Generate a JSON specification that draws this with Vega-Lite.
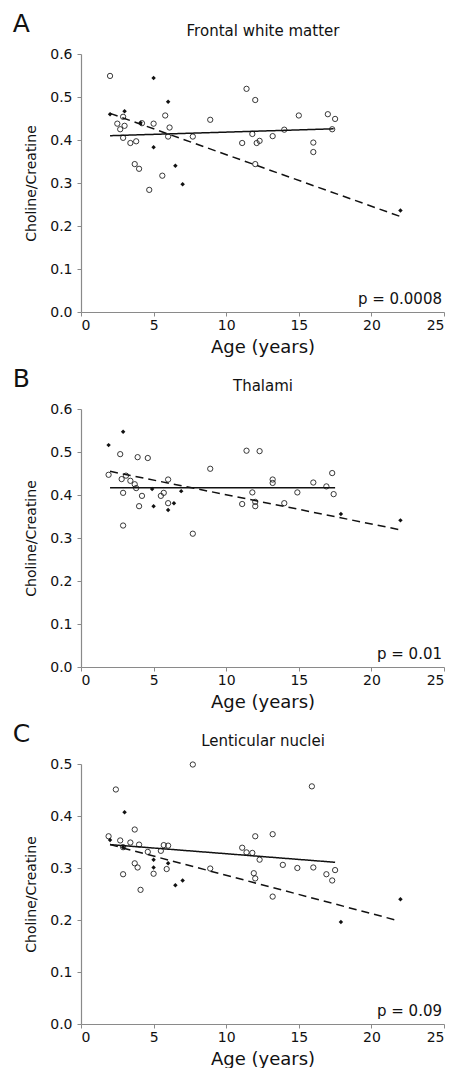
{
  "$schema": "https://vega.github.io/schema/vega-lite/v6.json",
  "padding": {"left": 12, "top": 12, "right": 4, "bottom": 0},
  "spacing": 11,
  "config": {
    "view": {"stroke": null},
    "font": "DejaVu Sans",
    "axis": {"domainColor": "#8a8a8a", "tickColor": "#8a8a8a", "labelColor": "#111", "titleColor": "#111", "labelFont": "DejaVu Sans", "titleFont": "DejaVu Sans", "labelFontSize": 14, "grid": false, "tickSize": 4, "titleFontWeight": "normal", "domainWidth": 1.2},
    "title": {"font": "DejaVu Sans", "fontWeight": "normal", "fontSize": 25, "anchor": "start", "frame": "bounds", "color": "#111", "offset": -14, "dx": -12}
  },
  "datasets": {
    "points": [
      {"panel": "A", "group": "Group 1", "age": 2.0, "ratio": 0.549},
      {"panel": "A", "group": "Group 1", "age": 11.4, "ratio": 0.519},
      {"panel": "A", "group": "Group 1", "age": 12.0, "ratio": 0.493},
      {"panel": "A", "group": "Group 1", "age": 5.8, "ratio": 0.457},
      {"panel": "A", "group": "Group 1", "age": 2.9, "ratio": 0.454},
      {"panel": "A", "group": "Group 1", "age": 8.9, "ratio": 0.447},
      {"panel": "A", "group": "Group 1", "age": 2.5, "ratio": 0.438},
      {"panel": "A", "group": "Group 1", "age": 3.0, "ratio": 0.433},
      {"panel": "A", "group": "Group 1", "age": 4.2, "ratio": 0.439},
      {"panel": "A", "group": "Group 1", "age": 5.0, "ratio": 0.438},
      {"panel": "A", "group": "Group 1", "age": 6.1, "ratio": 0.429},
      {"panel": "A", "group": "Group 1", "age": 2.7, "ratio": 0.425},
      {"panel": "A", "group": "Group 1", "age": 2.9, "ratio": 0.405},
      {"panel": "A", "group": "Group 1", "age": 3.4, "ratio": 0.393},
      {"panel": "A", "group": "Group 1", "age": 3.8, "ratio": 0.397},
      {"panel": "A", "group": "Group 1", "age": 6.0, "ratio": 0.408},
      {"panel": "A", "group": "Group 1", "age": 7.7, "ratio": 0.408},
      {"panel": "A", "group": "Group 1", "age": 11.1, "ratio": 0.393},
      {"panel": "A", "group": "Group 1", "age": 3.7, "ratio": 0.344},
      {"panel": "A", "group": "Group 1", "age": 4.0, "ratio": 0.333},
      {"panel": "A", "group": "Group 1", "age": 5.6, "ratio": 0.317},
      {"panel": "A", "group": "Group 1", "age": 4.7, "ratio": 0.284},
      {"panel": "A", "group": "Group 1", "age": 15.0, "ratio": 0.457},
      {"panel": "A", "group": "Group 1", "age": 17.0, "ratio": 0.46},
      {"panel": "A", "group": "Group 1", "age": 17.5, "ratio": 0.449},
      {"panel": "A", "group": "Group 1", "age": 14.0, "ratio": 0.424},
      {"panel": "A", "group": "Group 1", "age": 17.3, "ratio": 0.425},
      {"panel": "A", "group": "Group 1", "age": 11.8, "ratio": 0.414},
      {"panel": "A", "group": "Group 1", "age": 12.1, "ratio": 0.393},
      {"panel": "A", "group": "Group 1", "age": 12.3, "ratio": 0.398},
      {"panel": "A", "group": "Group 1", "age": 13.2, "ratio": 0.409},
      {"panel": "A", "group": "Group 1", "age": 16.0, "ratio": 0.394},
      {"panel": "A", "group": "Group 1", "age": 16.0, "ratio": 0.372},
      {"panel": "A", "group": "Group 1", "age": 12.0, "ratio": 0.344},
      {"panel": "A", "group": "Group 2", "age": 5.0, "ratio": 0.544},
      {"panel": "A", "group": "Group 2", "age": 6.0, "ratio": 0.489},
      {"panel": "A", "group": "Group 2", "age": 2.0, "ratio": 0.46},
      {"panel": "A", "group": "Group 2", "age": 3.0, "ratio": 0.467},
      {"panel": "A", "group": "Group 2", "age": 4.1, "ratio": 0.44},
      {"panel": "A", "group": "Group 2", "age": 5.0, "ratio": 0.383},
      {"panel": "A", "group": "Group 2", "age": 6.5, "ratio": 0.34},
      {"panel": "A", "group": "Group 2", "age": 7.0, "ratio": 0.297},
      {"panel": "A", "group": "Group 2", "age": 22.0, "ratio": 0.236},

      {"panel": "B", "group": "Group 1", "age": 2.7, "ratio": 0.495},
      {"panel": "B", "group": "Group 1", "age": 3.9, "ratio": 0.488},
      {"panel": "B", "group": "Group 1", "age": 4.6, "ratio": 0.486},
      {"panel": "B", "group": "Group 1", "age": 11.4, "ratio": 0.503},
      {"panel": "B", "group": "Group 1", "age": 12.3, "ratio": 0.502},
      {"panel": "B", "group": "Group 1", "age": 8.9, "ratio": 0.461},
      {"panel": "B", "group": "Group 1", "age": 1.9, "ratio": 0.447},
      {"panel": "B", "group": "Group 1", "age": 2.8, "ratio": 0.437},
      {"panel": "B", "group": "Group 1", "age": 3.1, "ratio": 0.445},
      {"panel": "B", "group": "Group 1", "age": 3.4, "ratio": 0.433},
      {"panel": "B", "group": "Group 1", "age": 3.7, "ratio": 0.425},
      {"panel": "B", "group": "Group 1", "age": 3.8, "ratio": 0.416},
      {"panel": "B", "group": "Group 1", "age": 6.0, "ratio": 0.436},
      {"panel": "B", "group": "Group 1", "age": 2.9, "ratio": 0.405},
      {"panel": "B", "group": "Group 1", "age": 4.2, "ratio": 0.398},
      {"panel": "B", "group": "Group 1", "age": 5.5, "ratio": 0.398},
      {"panel": "B", "group": "Group 1", "age": 5.7, "ratio": 0.405},
      {"panel": "B", "group": "Group 1", "age": 4.0, "ratio": 0.374},
      {"panel": "B", "group": "Group 1", "age": 6.0, "ratio": 0.381},
      {"panel": "B", "group": "Group 1", "age": 2.9, "ratio": 0.329},
      {"panel": "B", "group": "Group 1", "age": 7.7, "ratio": 0.31},
      {"panel": "B", "group": "Group 1", "age": 11.1, "ratio": 0.379},
      {"panel": "B", "group": "Group 1", "age": 17.3, "ratio": 0.451},
      {"panel": "B", "group": "Group 1", "age": 13.2, "ratio": 0.436},
      {"panel": "B", "group": "Group 1", "age": 13.2, "ratio": 0.428},
      {"panel": "B", "group": "Group 1", "age": 16.0, "ratio": 0.429},
      {"panel": "B", "group": "Group 1", "age": 16.9, "ratio": 0.42},
      {"panel": "B", "group": "Group 1", "age": 17.4, "ratio": 0.402},
      {"panel": "B", "group": "Group 1", "age": 11.8, "ratio": 0.406},
      {"panel": "B", "group": "Group 1", "age": 14.9, "ratio": 0.406},
      {"panel": "B", "group": "Group 1", "age": 12.0, "ratio": 0.384},
      {"panel": "B", "group": "Group 1", "age": 12.0, "ratio": 0.374},
      {"panel": "B", "group": "Group 1", "age": 14.0, "ratio": 0.381},
      {"panel": "B", "group": "Group 2", "age": 1.9, "ratio": 0.516},
      {"panel": "B", "group": "Group 2", "age": 2.9, "ratio": 0.547},
      {"panel": "B", "group": "Group 2", "age": 4.9, "ratio": 0.414},
      {"panel": "B", "group": "Group 2", "age": 6.9, "ratio": 0.409},
      {"panel": "B", "group": "Group 2", "age": 5.0, "ratio": 0.374},
      {"panel": "B", "group": "Group 2", "age": 6.4, "ratio": 0.381},
      {"panel": "B", "group": "Group 2", "age": 6.0, "ratio": 0.365},
      {"panel": "B", "group": "Group 2", "age": 17.9, "ratio": 0.356},
      {"panel": "B", "group": "Group 2", "age": 22.0, "ratio": 0.341},

      {"panel": "C", "group": "Group 1", "age": 7.7, "ratio": 0.499},
      {"panel": "C", "group": "Group 1", "age": 2.4, "ratio": 0.451},
      {"panel": "C", "group": "Group 1", "age": 3.7, "ratio": 0.374},
      {"panel": "C", "group": "Group 1", "age": 1.9, "ratio": 0.361},
      {"panel": "C", "group": "Group 1", "age": 2.7, "ratio": 0.353},
      {"panel": "C", "group": "Group 1", "age": 3.4, "ratio": 0.349},
      {"panel": "C", "group": "Group 1", "age": 4.0, "ratio": 0.345},
      {"panel": "C", "group": "Group 1", "age": 2.9, "ratio": 0.34},
      {"panel": "C", "group": "Group 1", "age": 4.6, "ratio": 0.331},
      {"panel": "C", "group": "Group 1", "age": 5.5, "ratio": 0.333},
      {"panel": "C", "group": "Group 1", "age": 5.7, "ratio": 0.344},
      {"panel": "C", "group": "Group 1", "age": 6.0, "ratio": 0.343},
      {"panel": "C", "group": "Group 1", "age": 3.7, "ratio": 0.309},
      {"panel": "C", "group": "Group 1", "age": 3.9, "ratio": 0.301},
      {"panel": "C", "group": "Group 1", "age": 5.0, "ratio": 0.289},
      {"panel": "C", "group": "Group 1", "age": 5.9, "ratio": 0.298},
      {"panel": "C", "group": "Group 1", "age": 2.9, "ratio": 0.288},
      {"panel": "C", "group": "Group 1", "age": 8.9, "ratio": 0.299},
      {"panel": "C", "group": "Group 1", "age": 4.1, "ratio": 0.258},
      {"panel": "C", "group": "Group 1", "age": 15.9, "ratio": 0.457},
      {"panel": "C", "group": "Group 1", "age": 13.2, "ratio": 0.365},
      {"panel": "C", "group": "Group 1", "age": 12.0, "ratio": 0.361},
      {"panel": "C", "group": "Group 1", "age": 11.1, "ratio": 0.339},
      {"panel": "C", "group": "Group 1", "age": 11.4, "ratio": 0.33},
      {"panel": "C", "group": "Group 1", "age": 11.8, "ratio": 0.329},
      {"panel": "C", "group": "Group 1", "age": 12.3, "ratio": 0.316},
      {"panel": "C", "group": "Group 1", "age": 13.9, "ratio": 0.306},
      {"panel": "C", "group": "Group 1", "age": 14.9, "ratio": 0.3},
      {"panel": "C", "group": "Group 1", "age": 16.0, "ratio": 0.301},
      {"panel": "C", "group": "Group 1", "age": 16.9, "ratio": 0.288},
      {"panel": "C", "group": "Group 1", "age": 17.5, "ratio": 0.296},
      {"panel": "C", "group": "Group 1", "age": 17.3, "ratio": 0.276},
      {"panel": "C", "group": "Group 1", "age": 11.9, "ratio": 0.29},
      {"panel": "C", "group": "Group 1", "age": 12.0, "ratio": 0.28},
      {"panel": "C", "group": "Group 1", "age": 13.2, "ratio": 0.245},
      {"panel": "C", "group": "Group 2", "age": 3.0, "ratio": 0.407},
      {"panel": "C", "group": "Group 2", "age": 2.0, "ratio": 0.354},
      {"panel": "C", "group": "Group 2", "age": 2.9, "ratio": 0.34},
      {"panel": "C", "group": "Group 2", "age": 5.0, "ratio": 0.316},
      {"panel": "C", "group": "Group 2", "age": 6.0, "ratio": 0.309},
      {"panel": "C", "group": "Group 2", "age": 5.0, "ratio": 0.301},
      {"panel": "C", "group": "Group 2", "age": 7.0, "ratio": 0.276},
      {"panel": "C", "group": "Group 2", "age": 6.5, "ratio": 0.267},
      {"panel": "C", "group": "Group 2", "age": 17.9, "ratio": 0.196},
      {"panel": "C", "group": "Group 2", "age": 22.0, "ratio": 0.24}
    ],
    "fits": [
      {"panel": "A", "group": "Group 1", "age": 2.0, "ratio": 0.41},
      {"panel": "A", "group": "Group 1", "age": 17.4, "ratio": 0.426},
      {"panel": "A", "group": "Group 2", "age": 2.0, "ratio": 0.462},
      {"panel": "A", "group": "Group 2", "age": 22.0, "ratio": 0.222},
      {"panel": "B", "group": "Group 1", "age": 2.0, "ratio": 0.417},
      {"panel": "B", "group": "Group 1", "age": 17.5, "ratio": 0.417},
      {"panel": "B", "group": "Group 2", "age": 2.0, "ratio": 0.455},
      {"panel": "B", "group": "Group 2", "age": 22.0, "ratio": 0.319},
      {"panel": "C", "group": "Group 1", "age": 2.0, "ratio": 0.345},
      {"panel": "C", "group": "Group 1", "age": 17.5, "ratio": 0.311},
      {"panel": "C", "group": "Group 2", "age": 2.0, "ratio": 0.345},
      {"panel": "C", "group": "Group 2", "age": 21.8, "ratio": 0.199}
    ],
    "stats": [
      {"panel": "A", "label": "p = 0.0008"},
      {"panel": "B", "label": "p = 0.01"},
      {"panel": "C", "label": "p = 0.09"}
    ]
  },
  "vconcat": [
    {
      "title": "A",
      "width": 363, "height": 258,
      "resolve": {"axis": {"x": "independent"}},
      "layer": [
        {"data": {"name": "points"}, "transform": [{"filter": "datum.panel === 'A' && datum.group === 'Group 1'"}],
         "mark": {"type": "point", "shape": "circle", "filled": false, "stroke": "#222", "strokeWidth": 0.9, "size": 28, "opacity": 1},
         "encoding": {
           "x": {"field": "age", "type": "quantitative", "scale": {"domain": [0, 25], "nice": false}, "axis": {"orient": "bottom", "title": "Age (years)", "values": [0, 5, 10, 15, 20, 25], "titleFontSize": 18, "labelPadding": 2, "titlePadding": 6}},
           "y": {"field": "ratio", "type": "quantitative", "scale": {"domain": [0, 0.6], "nice": false}, "axis": {"title": "Choline/Creatine", "values": [0, 0.1, 0.2, 0.3, 0.4, 0.5, 0.6], "format": ".1f", "titleFontSize": 14, "labelPadding": 5, "titlePadding": 11}}
         }},
        {"data": {"name": "points"}, "transform": [{"filter": "datum.panel === 'A' && datum.group === 'Group 2'"}],
         "mark": {"type": "point", "shape": "diamond", "filled": true, "color": "#111", "size": 20, "opacity": 1},
         "encoding": {
           "x": {"field": "age", "type": "quantitative", "axis": null},
           "y": {"field": "ratio", "type": "quantitative"}
         }},
        {"data": {"name": "fits"}, "transform": [{"filter": "datum.panel === 'A'"}],
         "mark": {"type": "line", "color": "#111", "strokeWidth": 1.5},
         "encoding": {
           "x": {"field": "age", "type": "quantitative", "axis": null},
           "y": {"field": "ratio", "type": "quantitative"},
           "strokeDash": {"field": "group", "type": "nominal", "scale": {"domain": ["Group 1", "Group 2"], "range": [[1, 0], [8, 5]]}, "legend": null}
         }},
        {"data": {"name": "stats"}, "transform": [{"filter": "datum.panel === 'A'"}],
         "mark": {"type": "text", "align": "right", "baseline": "bottom", "dy": -5, "dx": -2, "fontSize": 15, "color": "#111"},
         "encoding": {
           "x": {"datum": 25, "type": "quantitative", "axis": {"orient": "top", "title": "Frontal white matter", "labels": false, "ticks": false, "domain": false, "titleFontSize": 15, "titlePadding": 16}},
           "y": {"datum": 0, "type": "quantitative"},
           "text": {"field": "label"}
         }}
      ]
    },
    {
      "title": "B",
      "width": 363, "height": 258,
      "resolve": {"axis": {"x": "independent"}},
      "layer": [
        {"data": {"name": "points"}, "transform": [{"filter": "datum.panel === 'B' && datum.group === 'Group 1'"}],
         "mark": {"type": "point", "shape": "circle", "filled": false, "stroke": "#222", "strokeWidth": 0.9, "size": 28, "opacity": 1},
         "encoding": {
           "x": {"field": "age", "type": "quantitative", "scale": {"domain": [0, 25], "nice": false}, "axis": {"orient": "bottom", "title": "Age (years)", "values": [0, 5, 10, 15, 20, 25], "titleFontSize": 18, "labelPadding": 2, "titlePadding": 6}},
           "y": {"field": "ratio", "type": "quantitative", "scale": {"domain": [0, 0.6], "nice": false}, "axis": {"title": "Choline/Creatine", "values": [0, 0.1, 0.2, 0.3, 0.4, 0.5, 0.6], "format": ".1f", "titleFontSize": 14, "labelPadding": 5, "titlePadding": 11}}
         }},
        {"data": {"name": "points"}, "transform": [{"filter": "datum.panel === 'B' && datum.group === 'Group 2'"}],
         "mark": {"type": "point", "shape": "diamond", "filled": true, "color": "#111", "size": 20, "opacity": 1},
         "encoding": {
           "x": {"field": "age", "type": "quantitative", "axis": null},
           "y": {"field": "ratio", "type": "quantitative"}
         }},
        {"data": {"name": "fits"}, "transform": [{"filter": "datum.panel === 'B'"}],
         "mark": {"type": "line", "color": "#111", "strokeWidth": 1.5},
         "encoding": {
           "x": {"field": "age", "type": "quantitative", "axis": null},
           "y": {"field": "ratio", "type": "quantitative"},
           "strokeDash": {"field": "group", "type": "nominal", "scale": {"domain": ["Group 1", "Group 2"], "range": [[1, 0], [8, 5]]}, "legend": null}
         }},
        {"data": {"name": "stats"}, "transform": [{"filter": "datum.panel === 'B'"}],
         "mark": {"type": "text", "align": "right", "baseline": "bottom", "dy": -5, "dx": -2, "fontSize": 15, "color": "#111"},
         "encoding": {
           "x": {"datum": 25, "type": "quantitative", "axis": {"orient": "top", "title": "Thalami", "labels": false, "ticks": false, "domain": false, "titleFontSize": 15, "titlePadding": 16}},
           "y": {"datum": 0, "type": "quantitative"},
           "text": {"field": "label"}
         }}
      ]
    },
    {
      "title": "C",
      "width": 363, "height": 260,
      "resolve": {"axis": {"x": "independent"}},
      "layer": [
        {"data": {"name": "points"}, "transform": [{"filter": "datum.panel === 'C' && datum.group === 'Group 1'"}],
         "mark": {"type": "point", "shape": "circle", "filled": false, "stroke": "#222", "strokeWidth": 0.9, "size": 28, "opacity": 1},
         "encoding": {
           "x": {"field": "age", "type": "quantitative", "scale": {"domain": [0, 25], "nice": false}, "axis": {"orient": "bottom", "title": "Age (years)", "values": [0, 5, 10, 15, 20, 25], "titleFontSize": 18, "labelPadding": 2, "titlePadding": 6}},
           "y": {"field": "ratio", "type": "quantitative", "scale": {"domain": [0, 0.5], "nice": false}, "axis": {"title": "Choline/Creatine", "values": [0, 0.1, 0.2, 0.3, 0.4, 0.5], "format": ".1f", "titleFontSize": 14, "labelPadding": 5, "titlePadding": 11}}
         }},
        {"data": {"name": "points"}, "transform": [{"filter": "datum.panel === 'C' && datum.group === 'Group 2'"}],
         "mark": {"type": "point", "shape": "diamond", "filled": true, "color": "#111", "size": 20, "opacity": 1},
         "encoding": {
           "x": {"field": "age", "type": "quantitative", "axis": null},
           "y": {"field": "ratio", "type": "quantitative"}
         }},
        {"data": {"name": "fits"}, "transform": [{"filter": "datum.panel === 'C'"}],
         "mark": {"type": "line", "color": "#111", "strokeWidth": 1.5},
         "encoding": {
           "x": {"field": "age", "type": "quantitative", "axis": null},
           "y": {"field": "ratio", "type": "quantitative"},
           "strokeDash": {"field": "group", "type": "nominal", "scale": {"domain": ["Group 1", "Group 2"], "range": [[1, 0], [8, 5]]}, "legend": null}
         }},
        {"data": {"name": "stats"}, "transform": [{"filter": "datum.panel === 'C'"}],
         "mark": {"type": "text", "align": "right", "baseline": "bottom", "dy": -5, "dx": -2, "fontSize": 15, "color": "#111"},
         "encoding": {
           "x": {"datum": 25, "type": "quantitative", "axis": {"orient": "top", "title": "Lenticular nuclei", "labels": false, "ticks": false, "domain": false, "titleFontSize": 15, "titlePadding": 16}},
           "y": {"datum": 0, "type": "quantitative"},
           "text": {"field": "label"}
         }}
      ]
    }
  ]
}
